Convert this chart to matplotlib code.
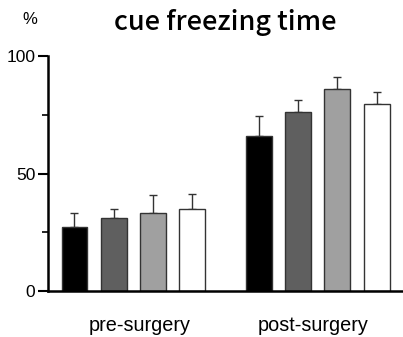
import matplotlib
matplotlib.use("Agg")
import matplotlib.pyplot as plt
import numpy as np

plt.rcParams['font.family'] = ['Liberation Sans', 'DejaVu Sans']

groups = ["pre-surgery", "post-surgery"]
colors = ["#000000", "#5f5f5f", "#a0a0a0", "#ffffff"]
pre_means = [27.2, 30.9, 33.3, 34.8]
pre_err = [6.0, 4.1, 7.4, 6.3]
post_means = [66.1, 76.0, 86.1, 79.6]
post_err = [8.5, 5.3, 5.1, 5.1]
yticks = [0, 50, 100]

fig = plt.figure(figsize=(4.03, 3.37), dpi=100)
ax = fig.add_axes([48/403, 1-291/337, 1-48/403, (291-56)/337])

group_offset = 4.69
width = 0.66
for g, (means, errs) in enumerate([(pre_means, pre_err), (post_means, post_err)]):
    xs = np.arange(4) + g*group_offset
    ax.bar(xs, means, width=width, color=colors, edgecolor="#333333", linewidth=1.0, zorder=2)
    ax.errorbar(xs, means, yerr=[np.zeros(4), errs], fmt='none', ecolor="#333333",
                elinewidth=1.0, capsize=3.0, capthick=1.0, zorder=1)

ax.set_xlim(-0.674, 8.36)
ax.set_ylim(0, 100)
ax.set_yticks(yticks)
ax.set_yticks([25, 75], minor=True)
ax.set_yticklabels([str(v) for v in yticks], fontsize=12.5)
ax.tick_params(axis='y', which='major', length=7, width=1.5, direction='out', pad=2)
ax.tick_params(axis='y', which='minor', length=4, width=1.2, direction='out')
ax.set_xticks([1.65, 1.39 + group_offset])
ax.set_xticklabels(groups, fontsize=14.3)
ax.tick_params(axis='x', length=0, pad=18)

for s in ['top', 'right']:
    ax.spines[s].set_visible(False)
ax.spines['left'].set_linewidth(1.8)
ax.spines['bottom'].set_linewidth(1.8)

fig.text(225/403, 1-23/337, "cue freezing time", ha='center', va='center',
         fontsize=19.5, fontweight='medium', family=['Noto Sans CJK JP', 'DejaVu Sans'])
fig.text(30/403, 1-20/337, "%", ha='center', va='center', fontsize=12)

fig.savefig("out.png", dpi=100)
